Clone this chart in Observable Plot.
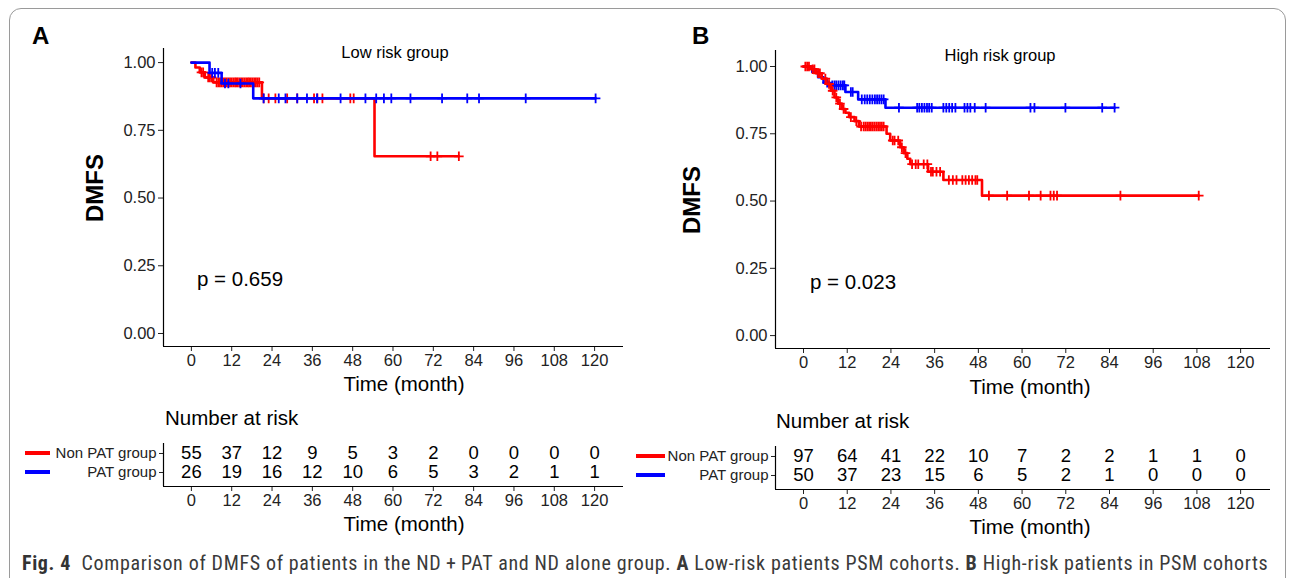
<!DOCTYPE html>
<html><head><meta charset="utf-8">
<script src="https://cdn.jsdelivr.net/npm/d3@7"></script>
<script src="https://cdn.jsdelivr.net/npm/@observablehq/plot@0.6"></script>
<style>
body{margin:0;background:#fff;font-family:"Liberation Sans",Arial,sans-serif;}
#fig{position:relative;width:1290px;height:578px;overflow:hidden;background:#fff;}
.abs{position:absolute;white-space:nowrap;line-height:1;color:#000;}
.c{transform:translate(-50%,-50%);}
.l{transform:translate(0,-50%);}
.sw{position:absolute;height:4px;}
svg{position:absolute;overflow:visible;}
</style></head><body><div id="fig"></div>
<script>
// ---------- shared ----------
const timeTicks = [0, 12, 24, 36, 48, 60, 72, 84, 96, 108, 120];
const survTicks = [0, 0.25, 0.5, 0.75, 1];
const groups = ["Non PAT group", "PAT group"];
const groupColors = ["#ff0000", "#0000ff"];

// ---------- Panel A : low risk ----------
const lowNonPatTime = [0, 1.2, 2.5, 4, 6.5, 21, 54.5];
const lowNonPatSurv = [1, 0.982, 0.964, 0.945, 0.927, 0.868, 0.654];
const lowNonPatCensor = [3, 3.5, 5, 5.5, 6, 7.5, 8, 8.5, 9, 9.5, 10, 10.5, 11, 11.5,
  12, 12.5, 13, 13.4, 13.8, 14.3, 14.8, 15.3, 15.8, 16.3, 16.8, 17.2, 17.7, 18.2, 18.7, 19.2, 19.7, 20.2, 21.5, 23,
  25, 28.5, 31.5, 36.5, 37.5, 39, 47.3, 48.3, 71.2, 73.2, 79.6];
const lowPatTime = [0, 5.4, 9, 18.4];
const lowPatSurv = [1, 0.962, 0.923, 0.868];
const lowPatCensor = [6.2, 7, 8, 10, 11, 14.6, 21.5, 26, 28, 31.5, 34.4, 37.4, 44.4,
  51.8, 55, 57.3, 59.5, 65.2, 74.6, 82.1, 85.6, 99.5, 120.3];
const lowRiskNonPat = [55, 37, 12, 9, 5, 3, 2, 0, 0, 0, 0];
const lowRiskPat = [26, 19, 16, 12, 10, 6, 5, 3, 2, 1, 1];

// ---------- Panel B : high risk ----------
const highNonPatTime = [0, 2, 3.5, 5, 6.3, 7.5, 8.5, 9.5, 10.5, 11.5, 12.5, 14, 15.2, 22.8, 23.8, 26.5, 27.5, 28.5, 29.3, 34.2, 38.4, 49];
const highNonPatSurv = [1, 0.99, 0.975, 0.955, 0.935, 0.91, 0.885, 0.862, 0.842, 0.828, 0.812, 0.797, 0.777, 0.75, 0.725, 0.70, 0.678, 0.657, 0.637, 0.609, 0.578, 0.52];
const highNonPatCensor = [0.5, 1, 1.5, 2.5, 3, 4, 4.5, 6, 7, 8, 9, 10, 11, 13, 14.5,
  15.8, 16.5, 17, 17.5, 18, 18.5, 19, 19.5, 20, 20.5, 21, 21.5, 22,
  24.5, 25, 26, 27, 28, 29.8, 30.8, 31.5, 33, 34, 35, 35.5,
  36.5, 37.5, 39.9, 41, 42, 43.6, 44.5, 45.4, 46.3, 47.2, 47.7,
  50.9, 55.9, 61.9, 65.1, 67.8, 68.7, 69.6, 87, 108.5];
const highPatTime = [0, 2.4, 4, 5.5, 7, 11.5, 15, 22.5];
const highPatSurv = [1, 0.98, 0.96, 0.94, 0.93, 0.905, 0.878, 0.847];
const highPatCensor = [6.5, 7.9, 8.5, 9, 9.6, 10.2, 10.8, 11.2,
  13, 13.5, 16, 16.8, 17.5, 18.2, 18.9, 19.6, 20.2, 20.8, 21.4, 22,
  26.2, 31.2, 31.8, 32.5, 33.2, 33.9, 34.5, 35.2,
  38.4, 39.2, 40, 40.8, 41.7, 44.2, 45, 45.8, 47, 50, 62.3, 63.4, 71.9, 82, 85.4];
const highRiskNonPat = [97, 64, 41, 22, 10, 7, 2, 2, 1, 1, 0];
const highRiskPat = [50, 37, 23, 15, 6, 5, 2, 1, 0, 0, 0];

// ---------- helpers ----------
const FONT = '"Liberation Sans", Arial, sans-serif';
const fig = document.getElementById("fig");
function survAt(times, survs, t) { let s = survs[0]; for (let i = 0; i < times.length; i++) if (times[i] <= t) s = survs[i]; return s; }
function curve(times, survs, censors) {
  const end = Math.max(d3.max(censors), d3.max(times));
  const steps = times.map((t, i) => ({t, s: survs[i]}));
  steps.push({t: end, s: survAt(times, survs, end)});
  const marks = censors.map(t => ({t, s: survAt(times, survs, t)}));
  return {steps, marks};
}
const plusSym = {draw(ctx, size) { const h = Math.sqrt(size / Math.PI) * 1.2; ctx.moveTo(-h, 0); ctx.lineTo(h, 0); ctx.moveTo(0, -h); ctx.lineTo(0, h); }};
function addText(txt, x, y, cls, style) {
  const d = document.createElement("div"); d.className = "abs " + cls; d.textContent = txt;
  d.style.left = x + "px"; d.style.top = y + "px"; Object.assign(d.style, style || {}); fig.appendChild(d); return d;
}
function place(svg, left, top) { svg.style.left = left + "px"; svg.style.top = top + "px"; fig.appendChild(svg); }

function kmPlot(cfg) {
  const order = cfg.redOnTop ? [1, 0] : [0, 1];
  const marks = [];
  for (const g of order) {
    const c = cfg.curves[g];
    marks.push(Plot.line(c.steps, {x: "t", y: "s", curve: "step-after", stroke: groupColors[g], strokeWidth: 2.6}));
    marks.push(Plot.dot(c.marks, {x: "t", y: "s", symbol: plusSym, r: 4, stroke: groupColors[g], strokeWidth: 1.8, fill: "none"}));
  }
  marks.push(Plot.ruleX([cfg.xd[0]], {stroke: "#000", strokeWidth: 1.2}));
  marks.push(Plot.ruleY([cfg.yd[0]], {stroke: "#000", strokeWidth: 1.2}));
  return Plot.plot({
    width: cfg.width, height: cfg.height,
    marginLeft: cfg.ml, marginRight: cfg.mr, marginTop: cfg.mt, marginBottom: cfg.mb,
    style: {fontFamily: FONT, fontSize: "16.5px", color: "#222", background: "transparent"},
    x: {domain: cfg.xd, ticks: timeTicks, tickSize: 5, tickPadding: 3, label: null},
    y: {domain: cfg.yd, ticks: survTicks, tickFormat: d3.format(".2f"), tickSize: 5, tickPadding: 3, label: null},
    marks
  });
}
function riskTable(cfg) {
  const rows = [];
  cfg.counts.forEach((arr, g) => arr.forEach((n, i) => rows.push({t: timeTicks[i], row: g + 1, n})));
  return Plot.plot({
    width: cfg.width, height: cfg.height,
    marginLeft: cfg.ml, marginRight: cfg.mr, marginTop: cfg.mt, marginBottom: cfg.mb,
    style: {fontFamily: FONT, fontSize: "16.5px", color: "#222", background: "transparent"},
    x: {domain: cfg.xd, ticks: timeTicks, tickSize: 5, tickPadding: 3, label: null},
    y: {domain: cfg.yd, ticks: [1, 2], tickFormat: i => groups[i - 1], tickSize: 4, tickPadding: 3, label: null},
    marks: [
      Plot.text(rows, {x: "t", y: "row", text: "n", fontSize: 18.5, fill: "#000"}),
      Plot.ruleX([cfg.xd[0]], {stroke: "#000", strokeWidth: 1.2}),
      Plot.ruleY([cfg.yd[0]], {stroke: "#000", strokeWidth: 1.2})
    ]
  });
}
function styleRowLabels(svg) {
  svg.querySelectorAll("g[aria-label='y-axis tick label'] text").forEach(t => t.style.fontSize = "15px");
}

// ---------- border ----------
const border = document.createElement("div");
Object.assign(border.style, {position: "absolute", left: "9px", top: "8px", width: "1275px", height: "620px", border: "1px solid #9a9a9a", borderRadius: "12px"});
fig.appendChild(border);

// ---------- Panel A ----------
place(kmPlot({width: 645, height: 400, ml: 163, mr: 22, mt: 48, mb: 54,
  xd: [-8.3, 128.6], yd: [-0.048, 1.052],
  curves: [curve(lowNonPatTime, lowNonPatSurv, lowNonPatCensor), curve(lowPatTime, lowPatSurv, lowPatCensor)]}), 0, 0);
const tA = riskTable({width: 645, height: 110, ml: 163, mr: 22, mt: 13, mb: 54,
  xd: [-8.3, 128.6], yd: [2.737, 0.474], counts: [lowRiskNonPat, lowRiskPat]});
styleRowLabels(tA); place(tA, 0, 430);

// ---------- Panel B ----------
place(kmPlot({width: 645, height: 400, ml: 130, mr: 20, mt: 50, mb: 52,
  xd: [-7.69, 128.2], yd: [-0.048, 1.0595], redOnTop: true,
  curves: [curve(highNonPatTime, highNonPatSurv, highNonPatCensor), curve(highPatTime, highPatSurv, highPatCensor)]}), 645, 0);
const tB = riskTable({width: 645, height: 110, ml: 130, mr: 20, mt: 13, mb: 54,
  xd: [-7.69, 128.2], yd: [2.737, 0.474], counts: [highRiskNonPat, highRiskPat]});
styleRowLabels(tB); place(tB, 645, 433);

// ---------- texts ----------
addText("A", 32, 36, "l", {fontSize: "24px", fontWeight: "bold", fontFamily: FONT});
addText("B", 692, 36, "l", {fontSize: "24px", fontWeight: "bold", fontFamily: FONT});
addText("Low risk group", 395, 52, "c", {fontSize: "16.5px"});
addText("High risk group", 1000, 55, "c", {fontSize: "16.5px"});
addText("DMFS", 95, 188, "c", {fontSize: "24px", fontWeight: "bold", transform: "translate(-50%,-50%) rotate(-90deg)"});
addText("DMFS", 692, 200, "c", {fontSize: "24px", fontWeight: "bold", transform: "translate(-50%,-50%) rotate(-90deg)"});
addText("p = 0.659", 197, 279, "l", {fontSize: "20.5px"});
addText("p = 0.023", 810, 282, "l", {fontSize: "20.5px"});
addText("Time (month)", 404, 384, "c", {fontSize: "20.5px"});
addText("Time (month)", 1030, 387, "c", {fontSize: "20.5px"});
addText("Number at risk", 165, 418, "l", {fontSize: "20.5px"});
addText("Number at risk", 776, 421, "l", {fontSize: "20.5px"});
addText("Time (month)", 404, 524, "c", {fontSize: "20.5px"});
addText("Time (month)", 1030, 527, "c", {fontSize: "20.5px"});
// legend swatches in risk tables
[[25, 453, 0, 25], [25, 472, 1, 25], [636, 456, 0, 29], [636, 475, 1, 29]].forEach(([x, y, g, w]) => {
  const s = document.createElement("div"); s.className = "sw";
  Object.assign(s.style, {left: x + "px", top: (y - 2) + "px", width: w + "px", background: groupColors[g]}); fig.appendChild(s);
});
// caption
const cap = document.createElement("div");
cap.className = "abs l";
Object.assign(cap.style, {left: "22px", top: "563px", fontSize: "20px", letterSpacing: "0.65px", color: "#3a3a3a", fontFamily: '"Liberation Sans Narrow", "Roboto Condensed", "Liberation Sans", sans-serif'});
cap.innerHTML = '<b style="color:#333">Fig. 4</b>&nbsp; Comparison of DMFS of patients in the ND\u2009+\u2009PAT and ND alone group. <b>A</b> Low-risk patients PSM cohorts. <b>B</b> High-risk patients in PSM cohorts';
fig.appendChild(cap);
</script></body></html>
